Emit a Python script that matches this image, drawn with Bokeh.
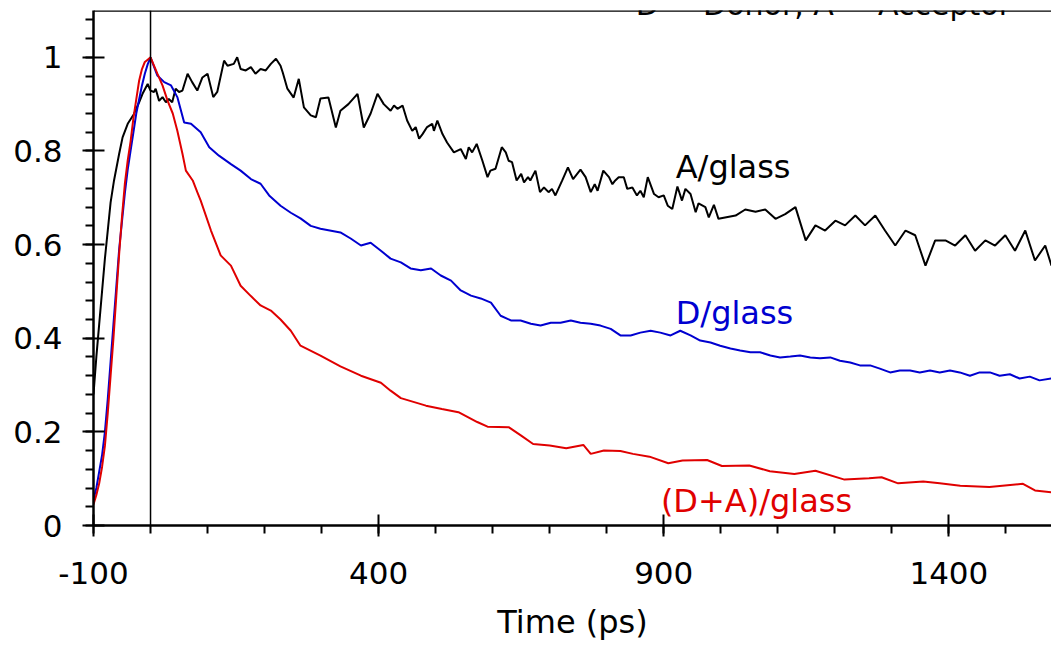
from bokeh.plotting import figure
from bokeh.models import Span, Label, FixedTicker
from bokeh.core.properties import value
from bokeh.embed import file_html
from bokeh.resources import INLINE

# Normalised time-resolved signals, time in ps
time_a = [-100, -95, -90, -85, -80, -75, -70, -64, -55, -49, -40, -29, -20, -14, -5, 0, 6, 9, 15,
          21, 27, 32, 38, 44, 50, 56, 65, 73, 82, 91, 100, 110, 117, 129, 135, 146, 152, 158, 167,
          176, 184, 193, 202, 211, 220, 228, 232, 240, 251, 260, 269, 281, 290, 298, 312, 325, 333,
          347, 363, 374, 386, 398, 409, 421, 427, 433, 442, 450, 459, 465, 471, 477, 485, 494, 497,
          503, 512, 520, 532, 544, 553, 558, 564, 572, 582, 591, 596, 605, 616, 623, 628, 634, 642,
          650, 655, 662, 666, 675, 683, 690, 698, 704, 710, 722, 732, 741, 754, 763, 772, 779, 784,
          794, 804, 810, 815, 821, 830, 836, 845, 853, 859, 865, 872, 883, 891, 900, 907, 915, 924,
          932, 938, 947, 956, 961, 973, 979, 988, 996, 1026, 1043, 1061, 1078, 1096, 1113, 1131,
          1149, 1166, 1183, 1201, 1218, 1236, 1253, 1271, 1288, 1306, 1324, 1341, 1359, 1376, 1394,
          1411, 1429, 1446, 1464, 1481, 1499, 1516, 1534, 1551, 1569, 1580]
signal_a = [0.28, 0.36, 0.43, 0.50, 0.57, 0.63, 0.69, 0.737, 0.794, 0.829, 0.858, 0.879, 0.904,
            0.922, 0.943, 0.929, 0.926, 0.933, 0.907, 0.915, 0.904, 0.911, 0.904, 0.933, 0.926,
            0.929, 0.965, 0.947, 0.929, 0.957, 0.965, 0.915, 0.926, 0.993, 0.982, 0.986, 1.0,
            0.975, 0.972, 0.979, 0.965, 0.975, 0.972, 0.986, 0.997, 0.982, 0.967, 0.933, 0.914,
            0.954, 0.893, 0.876, 0.872, 0.912, 0.914, 0.85, 0.886, 0.90, 0.922, 0.85, 0.88, 0.922,
            0.90, 0.886, 0.897, 0.89, 0.897, 0.865, 0.843, 0.851, 0.826, 0.836, 0.851, 0.858,
            0.843, 0.865, 0.836, 0.818, 0.797, 0.804, 0.783, 0.808, 0.797, 0.815, 0.779, 0.744,
            0.758, 0.762, 0.808, 0.797, 0.779, 0.776, 0.737, 0.751, 0.733, 0.744, 0.737, 0.758,
            0.712, 0.722, 0.712, 0.719, 0.705, 0.737, 0.765, 0.74, 0.76, 0.744, 0.712, 0.729,
            0.715, 0.758, 0.744, 0.729, 0.737, 0.744, 0.744, 0.719, 0.722, 0.705, 0.715, 0.701,
            0.744, 0.708, 0.701, 0.705, 0.683, 0.676, 0.724, 0.694, 0.719, 0.708, 0.669, 0.688,
            0.68, 0.658, 0.685, 0.655, 0.662, 0.675, 0.67, 0.675, 0.655, 0.665, 0.68, 0.609,
            0.641, 0.63, 0.651, 0.641, 0.662, 0.641, 0.662, 0.63, 0.598, 0.63, 0.62, 0.555, 0.609,
            0.609, 0.598, 0.62, 0.587, 0.609, 0.598, 0.62, 0.587, 0.63, 0.566, 0.598, 0.555]

time_d = [-100, -95, -90, -85, -80, -75, -70, -65, -60, -55, -50, -45, -40, -35, -30, -25, -20,
          -15, -10, -5, 0, 12, 24, 36, 47, 59, 71, 88, 103, 120, 141, 158, 176, 193, 208, 228, 246,
          263, 281, 298, 333, 351, 369, 386, 404, 421, 439, 456, 474, 492, 509, 527, 544, 562, 579,
          597, 614, 632, 649, 667, 684, 702, 719, 737, 754, 772, 789, 807, 824, 842, 859, 877, 894,
          912, 929, 947, 964, 982, 999, 1017, 1034, 1052, 1069, 1087, 1104, 1122, 1139, 1157, 1174,
          1192, 1209, 1227, 1244, 1262, 1279, 1297, 1314, 1332, 1349, 1367, 1384, 1402, 1419, 1437,
          1454, 1472, 1489, 1507, 1524, 1542, 1559, 1580]
signal_d = [0.055, 0.08, 0.115, 0.15, 0.2, 0.27, 0.35, 0.43, 0.51, 0.59, 0.65, 0.71, 0.76, 0.80,
            0.84, 0.88, 0.91, 0.94, 0.965, 0.985, 1.0, 0.961, 0.947, 0.94, 0.915, 0.861, 0.858,
            0.84, 0.808, 0.79, 0.772, 0.758, 0.74, 0.73, 0.705, 0.683, 0.668, 0.656, 0.64, 0.634,
            0.626, 0.613, 0.598, 0.604, 0.587, 0.57, 0.562, 0.549, 0.545, 0.549, 0.534, 0.523,
            0.502, 0.491, 0.485, 0.476, 0.448, 0.438, 0.438, 0.431, 0.427, 0.433, 0.433, 0.438,
            0.433, 0.431, 0.427, 0.42, 0.406, 0.406, 0.412, 0.416, 0.412, 0.406, 0.416, 0.406,
            0.395, 0.391, 0.384, 0.378, 0.374, 0.37, 0.37, 0.363, 0.359, 0.361, 0.363, 0.359,
            0.357, 0.359, 0.352, 0.348, 0.342, 0.342, 0.335, 0.327, 0.331, 0.331, 0.327, 0.331,
            0.327, 0.331, 0.327, 0.32, 0.327, 0.327, 0.32, 0.323, 0.314, 0.318, 0.31, 0.314]

time_da = [-100, -95, -90, -85, -80, -75, -70, -65, -60, -55, -50, -45, -40, -35, -30, -25, -20,
           -15, -10, -5, 0, 12, 21, 30, 39, 47, 56, 62, 74, 82, 88, 106, 123, 141, 158, 176, 193,
           211, 228, 246, 263, 298, 333, 369, 404, 421, 439, 483, 511, 540, 573, 591, 628, 650, 671,
           700, 729, 759, 772, 795, 824, 846, 875, 908, 933, 976, 1002, 1050, 1086, 1129, 1166,
           1217, 1260, 1282, 1311, 1355, 1384, 1420, 1471, 1530, 1551, 1580]
signal_da = [0.045, 0.065, 0.09, 0.125, 0.17, 0.24, 0.32, 0.40, 0.49, 0.58, 0.66, 0.73, 0.78,
             0.82, 0.87, 0.91, 0.95, 0.975, 0.99, 0.995, 1.0, 0.965, 0.94, 0.907, 0.88, 0.843,
             0.794, 0.758, 0.737, 0.712, 0.694, 0.63, 0.577, 0.555, 0.512, 0.49, 0.47, 0.459,
             0.44, 0.416, 0.384, 0.363, 0.34, 0.32, 0.305, 0.288, 0.272, 0.256, 0.249, 0.242,
             0.221, 0.211, 0.21, 0.192, 0.174, 0.171, 0.165, 0.172, 0.153, 0.16, 0.159, 0.153,
             0.147, 0.133, 0.139, 0.14, 0.127, 0.128, 0.116, 0.11, 0.117, 0.098, 0.101, 0.103,
             0.09, 0.094, 0.09, 0.085, 0.082, 0.089, 0.075, 0.071]

x_ticks = [-100, 400, 900, 1400]
x_tick_labels = ["-100", "400", "900", "1400"]
x_minor = [-100, 0, 100, 200, 300, 400, 500, 600, 700, 800, 900, 1000, 1100, 1200, 1300, 1400, 1500]
y_ticks = [0, 0.2, 0.4, 0.6, 0.8, 1]
y_tick_labels = ["0", "0.2", "0.4", "0.6", "0.8", "1"]
y_minor = [0, 0.04, 0.08, 0.12, 0.16, 0.2, 0.24, 0.28, 0.32, 0.36, 0.4, 0.44, 0.48, 0.52, 0.56,
           0.6, 0.64, 0.68, 0.72, 0.76, 0.8, 0.84, 0.88, 0.92, 0.96, 1, 1.04, 1.08]

FONT = "DejaVu Sans"

p = figure(width=1051, height=645, x_range=(-100, 1580), y_range=(0, 1.1),
           output_backend="svg", toolbar_location=None,
           min_border_left=93, min_border_right=0, min_border_top=10, min_border_bottom=120)
p.outline_line_color = None
p.xgrid.visible = False
p.ygrid.visible = False
p.background_fill_color = "white"
p.border_fill_color = "white"

for ax in (p.xaxis[0], p.yaxis[0]):
    ax.axis_line_width = 2.5
    ax.axis_line_color = "black"
    ax.major_tick_line_width = 2
    ax.minor_tick_line_width = 2
    ax.major_tick_in = 11
    ax.major_tick_out = 11
    ax.minor_tick_in = 0
    ax.minor_tick_out = 8
    ax.major_label_text_font = FONT
    ax.major_label_text_font_size = "31px"
    ax.major_label_text_color = "black"

p.xaxis.ticker = FixedTicker(ticks=x_ticks, minor_ticks=x_minor)
p.yaxis.ticker = FixedTicker(ticks=y_ticks, minor_ticks=y_minor)
p.xaxis.major_label_overrides = {t: s for t, s in zip(x_ticks, x_tick_labels)}
p.yaxis.major_label_overrides = {t: s for t, s in zip(y_ticks, y_tick_labels)}
p.xaxis.major_label_standoff = 25
p.yaxis.major_label_standoff = 20

p.xaxis.axis_label = "Time (ps)"
p.xaxis.axis_label_text_font = FONT
p.xaxis.axis_label_text_font_size = "32px"
p.xaxis.axis_label_text_font_style = "normal"
p.xaxis.axis_label_text_color = "black"
p.xaxis.axis_label_standoff = 16

# frame top edge
p.add_layout(Span(location=1.1, dimension="width", line_color="black", line_width=2.5))
# excitation time marker
p.add_layout(Span(location=0, dimension="height", line_color="black", line_width=1.5))

p.line(time_a, signal_a, line_color="black", line_width=2)
p.line(time_d, signal_d, line_color="#0000d0", line_width=2)
p.line(time_da, signal_da, line_color="#e00000", line_width=2)

label_style = dict(text_font=value(FONT), text_font_size="32px", text_baseline="alphabetic")
p.text(x=[921], y=[0.765], text=["A/glass"], text_color="black", **label_style)
p.text(x=[921], y=[0.454], text=["D/glass"], text_color="#0000d0", **label_style)
p.text(x=[895], y=[0.053], text=["(D+A)/glass"], text_color="#e00000", **label_style)

p.add_layout(Label(x=1180, y=1.1125, text="D = Donor, A = Acceptor", text_align="center",
                   text_baseline="alphabetic", text_font=FONT, text_font_size="30px",
                   text_color="black"))

open("out.html", "w").write(file_html(p, INLINE))
